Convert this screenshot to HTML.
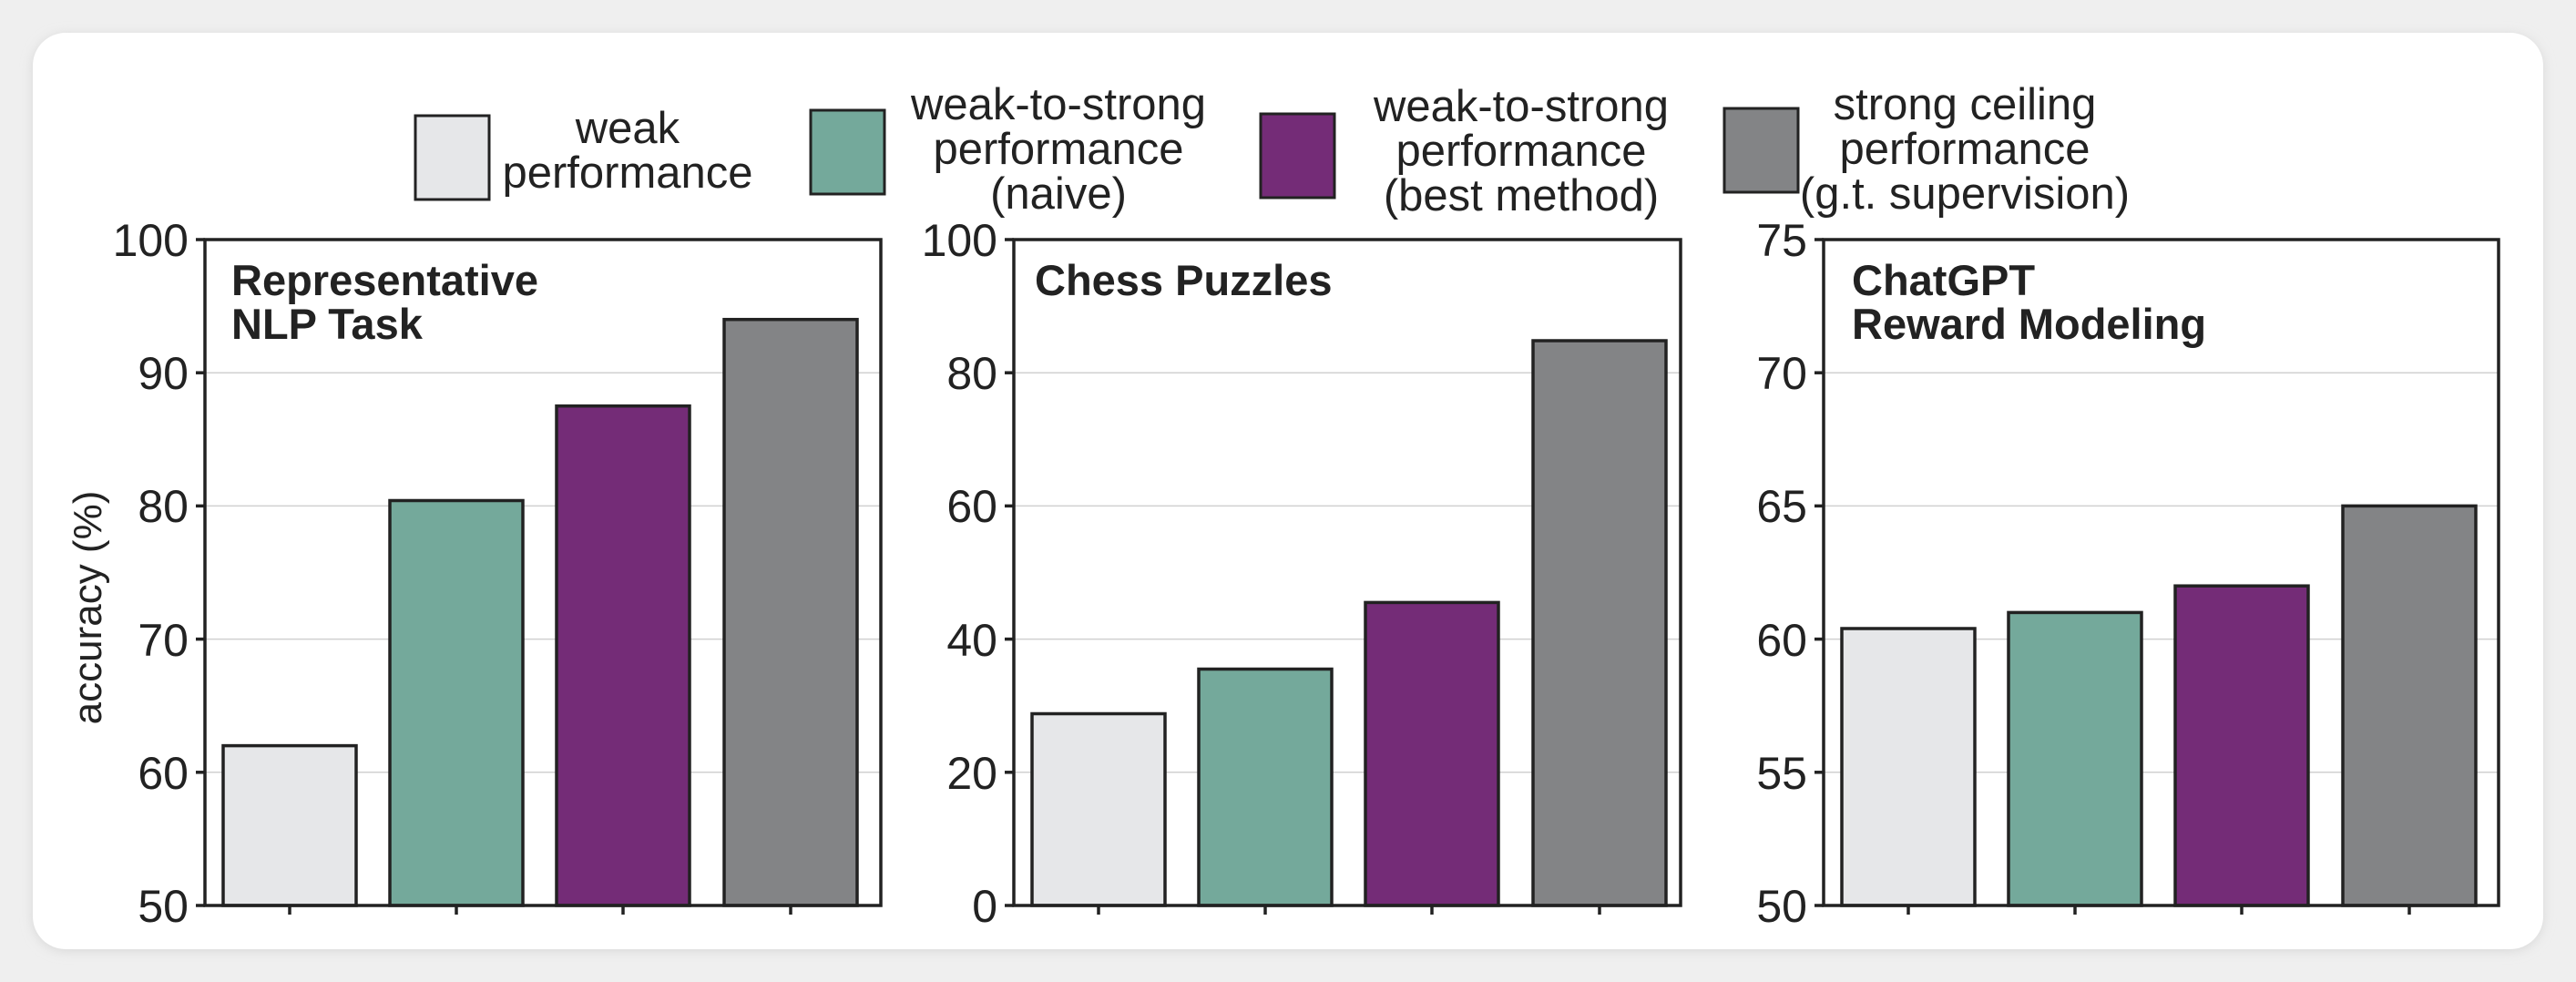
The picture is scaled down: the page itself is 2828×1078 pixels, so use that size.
<!DOCTYPE html>
<html><head><meta charset="utf-8"><style>
html,body{margin:0;padding:0;background:#efefef;}
svg{display:block;font-family:"Liberation Sans",sans-serif;}
</style></head><body>
<svg width="2828" height="1078" viewBox="0 0 2828 1078" xmlns="http://www.w3.org/2000/svg">
<defs><filter id="sh" x="-5%" y="-5%" width="110%" height="110%"><feGaussianBlur stdDeviation="6"/></filter></defs>
<rect x="0" y="0" width="2828" height="1078" fill="#efefef"/>
<rect x="36" y="38" width="2756" height="1006" rx="36" fill="#d8d8d8" filter="url(#sh)"/>
<rect x="36" y="36" width="2756" height="1006" rx="36" fill="#ffffff"/>

<!-- Legend -->
<g stroke="#222" stroke-width="3">
<rect x="456" y="127" width="81" height="92" fill="#e6e7e9"/>
<rect x="890" y="121" width="81" height="92" fill="#74a99b"/>
<rect x="1384" y="125" width="81" height="92" fill="#742c77"/>
<rect x="1893" y="119" width="81" height="92" fill="#838486"/>
</g>
<g font-size="49" fill="#222" text-anchor="middle">
<text x="689" y="157">weak</text><text x="689" y="206">performance</text>
<text x="1162" y="131">weak-to-strong</text><text x="1162" y="180">performance</text><text x="1162" y="229">(naive)</text>
<text x="1670" y="133">weak-to-strong</text><text x="1670" y="182">performance</text><text x="1670" y="231">(best method)</text>
<text x="2157" y="131">strong ceiling</text><text x="2157" y="180">performance</text><text x="2157" y="229">(g.t. supervision)</text>
</g>

<text transform="translate(111,667) rotate(-90)" font-size="44" fill="#222" text-anchor="middle">accuracy (%)</text>

<!-- Panel 1 -->
<g>
<g stroke="#d0d0d0" stroke-width="1.5">
<line x1="225" x2="967" y1="409.2" y2="409.2"/><line x1="225" x2="967" y1="555.4" y2="555.4"/><line x1="225" x2="967" y1="701.6" y2="701.6"/><line x1="225" x2="967" y1="847.8" y2="847.8"/>
</g>
<g stroke="#222" stroke-width="3.5">
<rect x="245" y="818.6" width="146" height="175.4" fill="#e6e7e9"/>
<rect x="428" y="549.5" width="146" height="444.5" fill="#74a99b"/>
<rect x="611" y="445.7" width="146" height="548.3" fill="#742c77"/>
<rect x="795" y="350.7" width="146" height="643.3" fill="#838486"/>
<rect x="225" y="263" width="742" height="731" fill="none"/>
<line x1="215" x2="225" y1="263" y2="263"/><line x1="215" x2="225" y1="409.2" y2="409.2"/><line x1="215" x2="225" y1="555.4" y2="555.4"/><line x1="215" x2="225" y1="701.6" y2="701.6"/><line x1="215" x2="225" y1="847.8" y2="847.8"/><line x1="215" x2="225" y1="994" y2="994"/>
<line x1="318" x2="318" y1="994" y2="1004"/><line x1="501" x2="501" y1="994" y2="1004"/><line x1="684" x2="684" y1="994" y2="1004"/><line x1="868" x2="868" y1="994" y2="1004"/>
</g>
<g font-size="50" fill="#222" text-anchor="end">
<text x="207" y="281">100</text><text x="207" y="427">90</text><text x="207" y="573">80</text><text x="207" y="720">70</text><text x="207" y="866">60</text><text x="207" y="1012">50</text>
</g>
<g font-size="47" font-weight="bold" fill="#222"><text x="254" y="324">Representative</text><text x="254" y="372">NLP Task</text></g>
</g>

<!-- Panel 2 -->
<g>
<g stroke="#d0d0d0" stroke-width="1.5">
<line x1="1113" x2="1845" y1="409.2" y2="409.2"/><line x1="1113" x2="1845" y1="555.4" y2="555.4"/><line x1="1113" x2="1845" y1="701.6" y2="701.6"/><line x1="1113" x2="1845" y1="847.8" y2="847.8"/>
</g>
<g stroke="#222" stroke-width="3.5">
<rect x="1133" y="783.5" width="146" height="210.5" fill="#e6e7e9"/>
<rect x="1316" y="734.5" width="146" height="259.5" fill="#74a99b"/>
<rect x="1499" y="661.4" width="146" height="332.6" fill="#742c77"/>
<rect x="1683" y="374" width="146" height="620" fill="#838486"/>
<rect x="1113" y="263" width="732" height="731" fill="none"/>
<line x1="1103" x2="1113" y1="263" y2="263"/><line x1="1103" x2="1113" y1="409.2" y2="409.2"/><line x1="1103" x2="1113" y1="555.4" y2="555.4"/><line x1="1103" x2="1113" y1="701.6" y2="701.6"/><line x1="1103" x2="1113" y1="847.8" y2="847.8"/><line x1="1103" x2="1113" y1="994" y2="994"/>
<line x1="1206" x2="1206" y1="994" y2="1004"/><line x1="1389" x2="1389" y1="994" y2="1004"/><line x1="1572" x2="1572" y1="994" y2="1004"/><line x1="1756" x2="1756" y1="994" y2="1004"/>
</g>
<g font-size="50" fill="#222" text-anchor="end">
<text x="1095" y="281">100</text><text x="1095" y="427">80</text><text x="1095" y="573">60</text><text x="1095" y="720">40</text><text x="1095" y="866">20</text><text x="1095" y="1012">0</text>
</g>
<g font-size="47" font-weight="bold" fill="#222"><text x="1136" y="324">Chess Puzzles</text></g>
</g>

<!-- Panel 3 -->
<g>
<g stroke="#d0d0d0" stroke-width="1.5">
<line x1="2002" x2="2743" y1="409.2" y2="409.2"/><line x1="2002" x2="2743" y1="555.4" y2="555.4"/><line x1="2002" x2="2743" y1="701.6" y2="701.6"/><line x1="2002" x2="2743" y1="847.8" y2="847.8"/>
</g>
<g stroke="#222" stroke-width="3.5">
<rect x="2022" y="690" width="146" height="304" fill="#e6e7e9"/>
<rect x="2205" y="672.4" width="146" height="321.6" fill="#74a99b"/>
<rect x="2388" y="643.2" width="146" height="350.8" fill="#742c77"/>
<rect x="2572" y="555.4" width="146" height="438.6" fill="#838486"/>
<rect x="2002" y="263" width="741" height="731" fill="none"/>
<line x1="1992" x2="2002" y1="263" y2="263"/><line x1="1992" x2="2002" y1="409.2" y2="409.2"/><line x1="1992" x2="2002" y1="555.4" y2="555.4"/><line x1="1992" x2="2002" y1="701.6" y2="701.6"/><line x1="1992" x2="2002" y1="847.8" y2="847.8"/><line x1="1992" x2="2002" y1="994" y2="994"/>
<line x1="2095" x2="2095" y1="994" y2="1004"/><line x1="2278" x2="2278" y1="994" y2="1004"/><line x1="2461" x2="2461" y1="994" y2="1004"/><line x1="2645" x2="2645" y1="994" y2="1004"/>
</g>
<g font-size="50" fill="#222" text-anchor="end">
<text x="1984" y="281">75</text><text x="1984" y="427">70</text><text x="1984" y="573">65</text><text x="1984" y="720">60</text><text x="1984" y="866">55</text><text x="1984" y="1012">50</text>
</g>
<g font-size="47" font-weight="bold" fill="#222"><text x="2033" y="324">ChatGPT</text><text x="2033" y="372">Reward Modeling</text></g>
</g>
</svg>
</body></html>
